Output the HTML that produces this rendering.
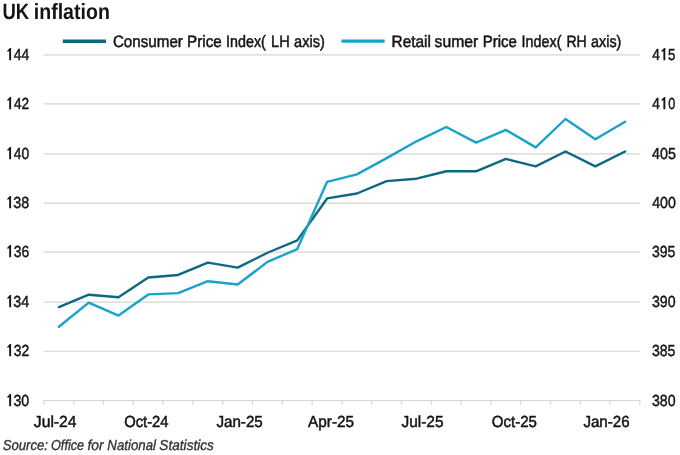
<!DOCTYPE html>
<html><head><meta charset="utf-8"><style>
html,body{margin:0;padding:0;background:#fff;}
svg{display:block;will-change:transform;}
text{font-family:"Liberation Sans",sans-serif;fill:#141414;text-rendering:geometricPrecision;}
.tt{font-size:22px;font-weight:bold;}
.lg{font-size:16.5px;stroke:#141414;stroke-width:0.5px;}
.yl{font-size:16px;stroke:#141414;stroke-width:0.45px;}
.xl{font-size:16px;stroke:#141414;stroke-width:0.5px;}
.sr{font-size:14.5px;font-style:italic;fill:#333;stroke:#333;stroke-width:0.35px;}
</style></head><body>
<svg width="680" height="455" viewBox="0 0 680 455">
<g stroke="#d4d4d4" stroke-width="1.2" fill="none"><line x1="43.9" x2="640" y1="54.84" y2="54.84"/><line x1="43.9" x2="640" y1="103.85" y2="103.85"/><line x1="43.9" x2="640" y1="153.84" y2="153.84"/><line x1="43.9" x2="640" y1="203.08" y2="203.08"/><line x1="43.9" x2="640" y1="252.20" y2="252.20"/><line x1="43.9" x2="640" y1="302.08" y2="302.08"/><line x1="43.9" x2="640" y1="351.25" y2="351.25"/><line x1="43.9" x2="640" y1="400.51" y2="400.51" stroke="#d4d4d4"/><path d="M43.90 400.51v4.2M73.70 400.51v4.2M103.50 400.51v4.2M133.30 400.51v4.2M163.10 400.51v4.2M192.90 400.51v4.2M222.70 400.51v4.2M252.50 400.51v4.2M282.30 400.51v4.2M312.10 400.51v4.2M341.90 400.51v4.2M371.70 400.51v4.2M401.50 400.51v4.2M431.30 400.51v4.2M461.10 400.51v4.2M490.90 400.51v4.2M520.70 400.51v4.2M550.50 400.51v4.2M580.30 400.51v4.2M610.10 400.51v4.2M639.90 400.51v4.2" stroke="#d4d4d4"/></g>
<line x1="62.8" x2="106" y1="41.2" y2="41.2" stroke="#0e6882" stroke-width="3.6"/>
<line x1="341.5" x2="384.7" y1="41.1" y2="41.1" stroke="#18a3ca" stroke-width="3.4"/>
<text x="2.39" y="19.00" textLength="26.79" lengthAdjust="spacingAndGlyphs" class="tt">UK</text><text x="33.80" y="19.00" textLength="76.03" lengthAdjust="spacingAndGlyphs" class="tt">inflation</text><text x="112.88" y="47.00" textLength="70.03" lengthAdjust="spacingAndGlyphs" class="lg">Consumer</text><text x="187.09" y="47.00" textLength="34.71" lengthAdjust="spacingAndGlyphs" class="lg">Price</text><text x="226.11" y="47.00" textLength="39.78" lengthAdjust="spacingAndGlyphs" class="lg">Index(</text><text x="271.03" y="47.00" textLength="18.64" lengthAdjust="spacingAndGlyphs" class="lg">LH</text><text x="294.08" y="47.00" textLength="30.68" lengthAdjust="spacingAndGlyphs" class="lg">axis)</text><text x="391.54" y="47.00" textLength="39.40" lengthAdjust="spacingAndGlyphs" class="lg">Retail</text><text x="434.58" y="47.00" textLength="43.69" lengthAdjust="spacingAndGlyphs" class="lg">sumer</text><text x="482.63" y="47.00" textLength="34.22" lengthAdjust="spacingAndGlyphs" class="lg">Price</text><text x="521.57" y="47.00" textLength="39.86" lengthAdjust="spacingAndGlyphs" class="lg">Index(</text><text x="566.43" y="47.00" textLength="20.29" lengthAdjust="spacingAndGlyphs" class="lg">RH</text><text x="591.08" y="47.00" textLength="30.30" lengthAdjust="spacingAndGlyphs" class="lg">axis)</text><text x="33.84" y="426.90" textLength="42.68" lengthAdjust="spacingAndGlyphs" class="xl">Jul-24</text><text x="124.16" y="426.90" textLength="44.42" lengthAdjust="spacingAndGlyphs" class="xl">Oct-24</text><text x="216.42" y="426.90" textLength="46.32" lengthAdjust="spacingAndGlyphs" class="xl">Jan-25</text><text x="308.07" y="426.90" textLength="46.08" lengthAdjust="spacingAndGlyphs" class="xl">Apr-25</text><text x="401.46" y="426.90" textLength="42.08" lengthAdjust="spacingAndGlyphs" class="xl">Jul-25</text><text x="491.79" y="426.90" textLength="45.05" lengthAdjust="spacingAndGlyphs" class="xl">Oct-25</text><text x="583.38" y="426.90" textLength="46.21" lengthAdjust="spacingAndGlyphs" class="xl">Jan-26</text><text x="2.77" y="449.80" textLength="45.25" lengthAdjust="spacingAndGlyphs" class="sr">Source:</text><text x="51.01" y="449.80" textLength="33.13" lengthAdjust="spacingAndGlyphs" class="sr">Office</text><text x="87.44" y="449.80" textLength="16.01" lengthAdjust="spacingAndGlyphs" class="sr">for</text><text x="107.31" y="449.80" textLength="48.68" lengthAdjust="spacingAndGlyphs" class="sr">National</text><text x="159.35" y="449.80" textLength="54.57" lengthAdjust="spacingAndGlyphs" class="sr">Statistics</text><text x="13.69" y="59.84" textLength="15.47" lengthAdjust="spacingAndGlyphs" class="yl">44</text><text x="652.17" y="59.84" textLength="7.64" lengthAdjust="spacingAndGlyphs" class="yl">4</text><text x="668.11" y="59.84" textLength="7.33" lengthAdjust="spacingAndGlyphs" class="yl">5</text><text x="13.92" y="108.85" textLength="15.18" lengthAdjust="spacingAndGlyphs" class="yl">42</text><text x="652.17" y="108.85" textLength="7.64" lengthAdjust="spacingAndGlyphs" class="yl">4</text><text x="668.37" y="108.85" textLength="7.03" lengthAdjust="spacingAndGlyphs" class="yl">0</text><text x="13.78" y="158.84" textLength="15.34" lengthAdjust="spacingAndGlyphs" class="yl">40</text><text x="652.06" y="158.84" textLength="23.81" lengthAdjust="spacingAndGlyphs" class="yl">405</text><text x="13.33" y="208.08" textLength="15.99" lengthAdjust="spacingAndGlyphs" class="yl">38</text><text x="652.18" y="208.08" textLength="23.60" lengthAdjust="spacingAndGlyphs" class="yl">400</text><text x="13.68" y="257.20" textLength="15.51" lengthAdjust="spacingAndGlyphs" class="yl">36</text><text x="651.91" y="257.20" textLength="23.47" lengthAdjust="spacingAndGlyphs" class="yl">395</text><text x="13.32" y="307.08" textLength="15.80" lengthAdjust="spacingAndGlyphs" class="yl">34</text><text x="651.93" y="307.08" textLength="23.59" lengthAdjust="spacingAndGlyphs" class="yl">390</text><text x="13.70" y="356.25" textLength="15.51" lengthAdjust="spacingAndGlyphs" class="yl">32</text><text x="651.91" y="356.25" textLength="23.47" lengthAdjust="spacingAndGlyphs" class="yl">385</text><text x="13.40" y="405.51" textLength="15.74" lengthAdjust="spacingAndGlyphs" class="yl">30</text><text x="651.93" y="405.51" textLength="23.59" lengthAdjust="spacingAndGlyphs" class="yl">380</text>
<path d="M11.10 48.00L9.90 48.00L7.10 50.90L8.00 52.00L9.20 50.80L9.20 60.30L11.10 60.30ZM665.30 48.00L664.10 48.00L661.30 50.90L662.20 52.00L663.40 50.80L663.40 60.30L665.30 60.30ZM11.10 97.00L9.90 97.00L7.10 99.90L8.00 101.00L9.20 99.80L9.20 109.30L11.10 109.30ZM665.30 97.00L664.10 97.00L661.30 99.90L662.20 101.00L663.40 99.80L663.40 109.30L665.30 109.30ZM11.10 147.00L9.90 147.00L7.10 149.90L8.00 151.00L9.20 149.80L9.20 159.30L11.10 159.30ZM11.10 196.00L9.90 196.00L7.10 198.90L8.00 200.00L9.20 198.80L9.20 208.30L11.10 208.30ZM11.10 245.00L9.90 245.00L7.10 247.90L8.00 249.00L9.20 247.80L9.20 257.30L11.10 257.30ZM11.10 295.00L9.90 295.00L7.10 297.90L8.00 299.00L9.20 297.80L9.20 307.30L11.10 307.30ZM11.10 344.00L9.90 344.00L7.10 346.90L8.00 348.00L9.20 346.80L9.20 356.30L11.10 356.30ZM11.10 394.00L9.90 394.00L7.10 396.90L8.00 398.00L9.20 396.80L9.20 406.30L11.10 406.30Z" fill="#141414"/>
<polyline points="58.90,307.08 88.70,294.73 118.50,297.20 148.30,277.45 178.10,274.98 207.90,262.64 237.70,267.57 267.50,252.76 297.30,240.42 327.10,198.44 356.90,193.50 386.70,181.16 416.50,178.69 446.30,171.28 476.10,171.28 505.90,158.94 535.70,166.34 565.50,151.53 595.30,166.34 625.10,151.53" fill="none" stroke="#0e6882" stroke-width="2.4" stroke-linejoin="round" stroke-linecap="round"/>
<polyline points="58.90,326.80 88.70,302.60 118.50,315.60 148.30,294.40 178.10,293.10 207.90,281.20 237.70,284.50 267.50,261.90 297.30,249.10 327.10,181.80 356.90,174.40 386.70,158.10 416.50,141.30 446.30,127.00 476.10,142.60 505.90,129.90 535.70,147.40 565.50,119.00 595.30,139.20 625.10,121.70" fill="none" stroke="#18a3ca" stroke-width="2.4" stroke-linejoin="round" stroke-linecap="round"/>
</svg>
</body></html>
